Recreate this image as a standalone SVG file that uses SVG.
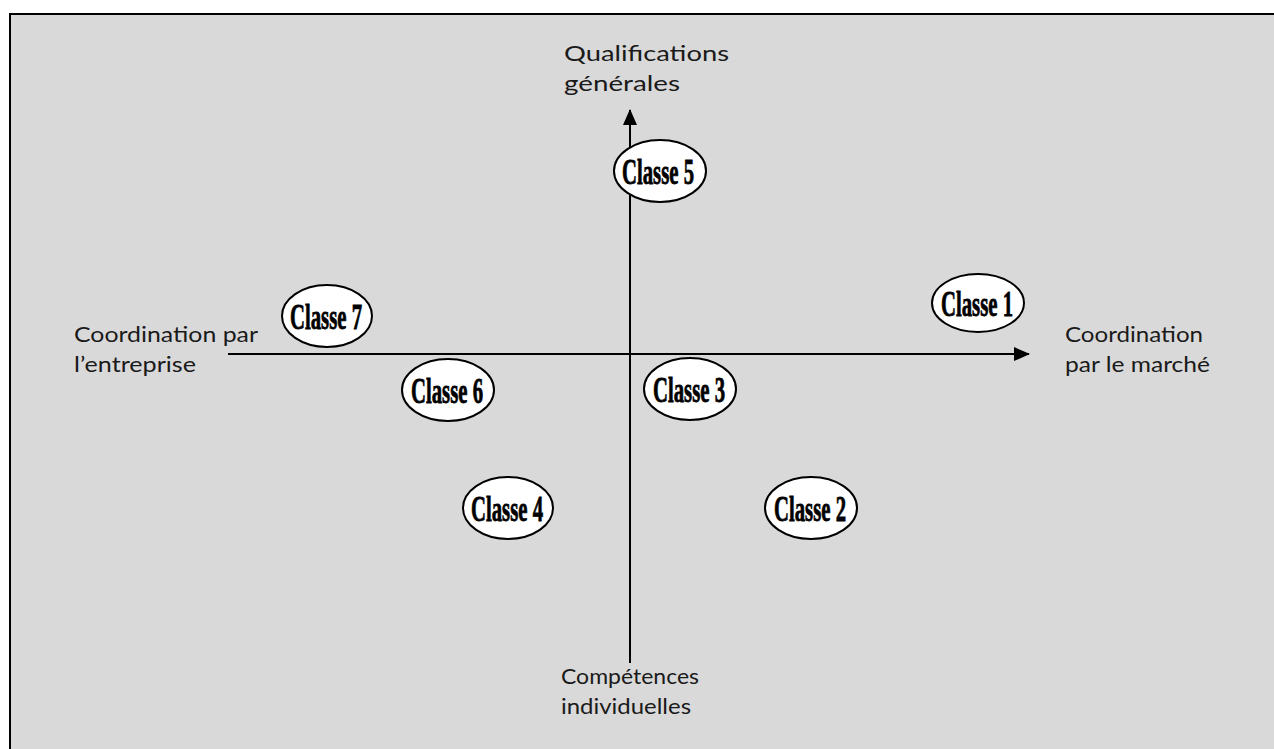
<svg xmlns="http://www.w3.org/2000/svg" width="1274" height="749" viewBox="0 0 1274 749">
  <defs>
    <style>
      .label { font-family: Lato, "Open Sans", sans-serif; font-size: 22px; fill: #1a1a1a; }
      .node ellipse { fill: #ffffff; stroke: #000000; stroke-width: 2; }
      .node text { font-family: "Liberation Serif", serif; font-weight: bold; font-size: 36px; fill: #000000; stroke: #000000; stroke-width: 0.8; text-anchor: middle; }
      .axis { stroke: #000000; stroke-width: 2; fill: none; }
    </style>
    <marker id="arrow" viewBox="0 0 16 14" refX="15" refY="7" markerWidth="16" markerHeight="14" markerUnits="userSpaceOnUse" orient="auto">
      <path d="M0,0 L16,7 L0,14 Z" fill="#000000"/>
    </marker>
  </defs>

  <!-- panel background -->
  <rect x="10" y="14" width="1280" height="760" fill="#d9d9d9" stroke="#000000" stroke-width="2"/>

  <!-- axes -->
  <g id="connectors">
    <line class="axis" x1="630" y1="663" x2="630" y2="110" marker-end="url(#arrow)"/>
    <line class="axis" x1="228" y1="354" x2="1029" y2="354" marker-end="url(#arrow)"/>
  </g>

  <!-- axis labels -->
  <g id="label-top">
    <text class="label" x="564" y="61" textLength="165" lengthAdjust="spacingAndGlyphs">Qualifications</text>
    <text class="label" x="564" y="91" textLength="116" lengthAdjust="spacingAndGlyphs">générales</text>
  </g>
  <g id="label-left">
    <text class="label" x="74" y="342" textLength="184" lengthAdjust="spacingAndGlyphs">Coordination par</text>
    <text class="label" x="74" y="372" textLength="122" lengthAdjust="spacingAndGlyphs">l’entreprise</text>
  </g>
  <g id="label-right">
    <text class="label" x="1065" y="342" textLength="138" lengthAdjust="spacingAndGlyphs">Coordination</text>
    <text class="label" x="1065" y="372" textLength="145" lengthAdjust="spacingAndGlyphs">par le marché</text>
  </g>
  <g id="label-bottom">
    <text class="label" x="561" y="684" textLength="138" lengthAdjust="spacingAndGlyphs">Compétences</text>
    <text class="label" x="561" y="714" textLength="130" lengthAdjust="spacingAndGlyphs">individuelles</text>
  </g>

  <!-- classes -->
  <g id="classe5" class="node">
    <ellipse cx="660" cy="171" rx="46" ry="31"/>
    <text x="658" y="184" textLength="72" lengthAdjust="spacingAndGlyphs">Classe 5</text>
  </g>
  <g id="classe7" class="node">
    <ellipse cx="327" cy="316" rx="45" ry="31"/>
    <text x="326" y="329" textLength="72" lengthAdjust="spacingAndGlyphs">Classe 7</text>
  </g>
  <g id="classe1" class="node">
    <ellipse cx="978" cy="303" rx="46" ry="29"/>
    <text x="977" y="316" textLength="72" lengthAdjust="spacingAndGlyphs">Classe 1</text>
  </g>
  <g id="classe6" class="node">
    <ellipse cx="448" cy="390" rx="46" ry="31"/>
    <text x="447" y="403" textLength="72" lengthAdjust="spacingAndGlyphs">Classe 6</text>
  </g>
  <g id="classe3" class="node">
    <ellipse cx="690" cy="389" rx="46" ry="31"/>
    <text x="689" y="402" textLength="72" lengthAdjust="spacingAndGlyphs">Classe 3</text>
  </g>
  <g id="classe4" class="node">
    <ellipse cx="508" cy="508" rx="45" ry="31"/>
    <text x="507" y="521" textLength="72" lengthAdjust="spacingAndGlyphs">Classe 4</text>
  </g>
  <g id="classe2" class="node">
    <ellipse cx="811" cy="508" rx="46" ry="31"/>
    <text x="810" y="521" textLength="72" lengthAdjust="spacingAndGlyphs">Classe 2</text>
  </g>
</svg>
